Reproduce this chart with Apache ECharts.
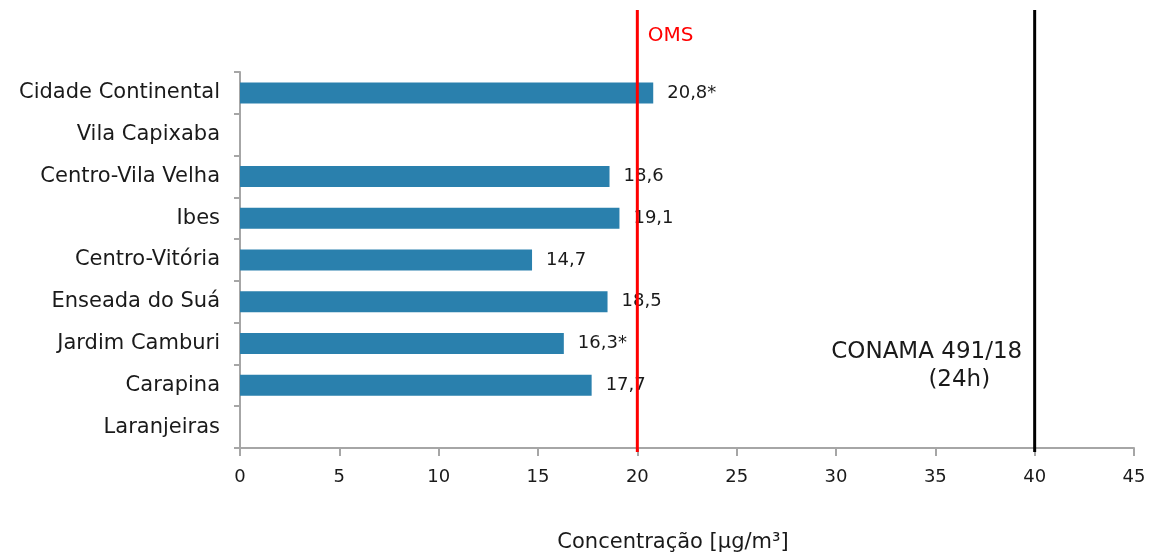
<!DOCTYPE html>
<html>
<head>
<meta charset="utf-8">
<script src="https://cdn.jsdelivr.net/npm/echarts@6/dist/echarts.min.js"></script>
<style>
  html, body { margin: 0; padding: 0; background: #ffffff; }
  #chart { width: 1176px; height: 553px; }
</style>
</head>
<body>
<div id="chart"></div>
<script>
// Stations, top to bottom
const stations = [
  'Cidade Continental', 'Vila Capixaba', 'Centro-Vila Velha', 'Ibes',
  'Centro-Vitória', 'Enseada do Suá', 'Jardim Camburi', 'Carapina', 'Laranjeiras'
];
// Annual mean concentration (µg/m³); null = no measurement
const concentration = [20.8, null, 18.6, 19.1, 14.7, 18.5, 16.3, 17.7, null];
// Stations whose value is flagged with an asterisk
const flagged = [true, false, false, false, false, false, true, false, false];

// Reference limits
const omsLimit = 20;
const conamaLimit = 40;

const xTicks = { min: 0, max: 45, interval: 5 };

const FONT = '"DejaVu Sans", "Noto Sans", sans-serif';
const TEXT = '#1a1a1a';
const AXIS = '#a6a6a6';

const chart = echarts.init(document.getElementById('chart'), null, { renderer: 'canvas' });

const barData = concentration.map((v, i) => ({
  value: v,
  label: { formatter: v == null ? '' : String(v).replace('.', ',') + (flagged[i] ? '*' : '') }
}));

// Vertical limit line spanning the full plot height
function limitLine(x, color) {
  return {
    type: 'line', xAxisIndex: 1, yAxisIndex: 1,
    symbol: 'none', silent: true, z: 5,
    lineStyle: { color: color, width: 3 },
    data: [[x, 0], [x, 1]]
  };
}

// Text tags attached to a limit line (invisible anchor points)
function limitTags(x, tags) {
  return {
    type: 'scatter', xAxisIndex: 1, yAxisIndex: 1,
    symbolSize: 1, silent: true, z: 6,
    itemStyle: { color: 'rgba(0,0,0,0)', opacity: 1 },
    data: tags.map(t => ({
      value: [x, t.at],
      label: Object.assign({ show: true, fontFamily: FONT }, t.style)
    }))
  };
}

chart.setOption({
  animation: false,
  grid: [
    { left: 240, right: 42, top: 72, bottom: 105, outerBoundsMode: 'none' },
    { left: 240, right: 42, top: 10, bottom: 101, outerBoundsMode: 'none' }
  ],
  xAxis: [
    {
      gridIndex: 0, type: 'value',
      min: xTicks.min, max: xTicks.max, interval: xTicks.interval,
      name: 'Concentração [µg/m³]', nameLocation: 'middle', nameGap: 84,
      nameTextStyle: { color: TEXT, fontSize: 21, fontFamily: FONT, padding: [0, 28, 0, 0] },
      axisLine: { show: true, lineStyle: { color: AXIS, width: 2 } },
      axisTick: { show: true, length: 8, lineStyle: { color: AXIS, width: 2 } },
      axisLabel: { color: TEXT, fontSize: 18, fontFamily: FONT, margin: 20 },
      splitLine: { show: false }
    },
    {
      gridIndex: 1, type: 'value', min: xTicks.min, max: xTicks.max,
      show: false
    }
  ],
  yAxis: [
    {
      gridIndex: 0, type: 'category', data: stations, inverse: true,
      axisLine: { show: true, lineStyle: { color: AXIS, width: 2 } },
      axisTick: { show: true, length: 6, lineStyle: { color: AXIS, width: 2 } },
      axisLabel: { color: TEXT, fontSize: 21, fontFamily: FONT, margin: 20 }
    },
    { gridIndex: 1, type: 'value', min: 0, max: 1, show: false }
  ],
  series: [
    {
      type: 'bar', xAxisIndex: 0, yAxisIndex: 0,
      data: barData, barWidth: 21,
      itemStyle: { color: '#2a80ad' },
      label: {
        show: true, position: 'right', distance: 14,
        color: TEXT, fontSize: 18, fontFamily: FONT
      },
      z: 2
    },
    limitLine(omsLimit, '#ff0000'),
    limitLine(conamaLimit, '#000000'),
    limitTags(omsLimit, [
      { at: 0.941, style: { formatter: 'OMS', position: 'right', distance: 10, color: '#ff0000', fontSize: 20 } }
    ]),
    limitTags(conamaLimit, [
      { at: 0.163, style: { formatter: '(24h)', position: 'left', distance: 44, color: TEXT, fontSize: 23 } },
      { at: 0.226, style: { formatter: 'CONAMA 491/18', position: 'left', distance: 12, color: TEXT, fontSize: 23 } }
    ])
  ]
});
</script>
</body>
</html>
